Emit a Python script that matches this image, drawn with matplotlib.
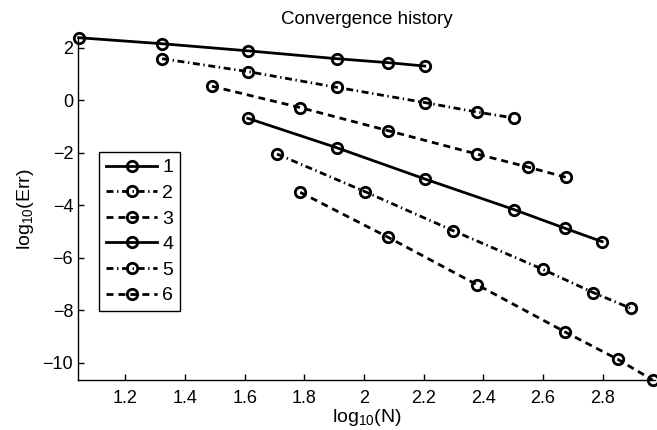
import matplotlib
matplotlib.use("Agg")
import matplotlib.pyplot as plt
from matplotlib.ticker import FuncFormatter

plt.rcParams['font.family'] = ['Liberation Sans', 'DejaVu Sans']
plt.rcParams['mathtext.fontset'] = 'custom'
plt.rcParams['mathtext.rm'] = 'Liberation Sans'
plt.rcParams['mathtext.default'] = 'regular'
plt.rcParams['lines.scale_dashes'] = False

labels = ['1', '2', '3', '4', '5', '6']
x1 = [1.043, 1.323, 1.610, 1.908, 2.080, 2.203]
y1 = [2.39, 2.16, 1.89, 1.59, 1.44, 1.31]
x2 = [1.323, 1.610, 1.908, 2.203, 2.377, 2.503]
y2 = [1.59, 1.10, 0.50, -0.08, -0.44, -0.67]
x3 = [1.490, 1.785, 2.080, 2.377, 2.550, 2.677]
y3 = [0.54, -0.27, -1.15, -2.04, -2.54, -2.93]
x4 = [1.610, 1.908, 2.203, 2.503, 2.673, 2.798]
y4 = [-0.68, -1.80, -2.99, -4.16, -4.87, -5.38]
x5 = [1.708, 2.002, 2.298, 2.598, 2.768, 2.894]
y5 = [-2.04, -3.47, -4.96, -6.43, -7.32, -7.92]
x6 = [1.786, 2.080, 2.380, 2.672, 2.850, 2.967]
y6 = [-3.50, -5.21, -7.03, -8.81, -9.86, -10.65]

xs = [x1, x2, x3, x4, x5, x6]
ys = [y1, y2, y3, y4, y5, y6]
solid = '-'
dashed = (0, (5.0, 3.6))
dashdot = (0, (5.0, 2.6, 1.0, 2.6))
styles = [solid, dashdot, dashed, solid, dashdot, dashed]

fig = plt.figure(figsize=(6.57, 4.30), dpi=100)
W, H = 657, 430
L, R, T, B = 78, 655, 37.7, 380
ax = fig.add_axes([L / W, 1 - B / H, (R - L) / W, (B - T) / H])

for x, y, ls, lab in zip(xs, ys, styles, labels):
    ax.plot(x, y, linestyle=ls, color='black', lw=2.0, marker='o',
            markersize=7.5, markerfacecolor='none', markeredgewidth=2.0,
            markeredgecolor='black', label=lab, clip_on=False)

ax.set_xlim(1.041, 2.975)
ax.set_ylim(-10.65, 2.39)
ax.set_xticks([1.2, 1.4, 1.6, 1.8, 2.0, 2.2, 2.4, 2.6, 2.8])
ax.set_yticks([-10, -8, -6, -4, -2, 0, 2])
ax.xaxis.set_major_formatter(FuncFormatter(lambda v, p: ('%g' % round(v, 2))))
ax.yaxis.set_major_formatter(FuncFormatter(lambda v, p: ('%g' % v).replace('-', '\u2212')))
ax.spines['top'].set_visible(False)
ax.spines['right'].set_visible(False)
for s in ['left', 'bottom']:
    ax.spines[s].set_linewidth(1.0)
ax.tick_params(axis='both', direction='in', length=4, width=1, labelsize=13)
ax.tick_params(axis='x', pad=7.5)
ax.tick_params(axis='y', pad=3.5)

ax.set_title('Convergence history', fontsize=13.5, pad=10)
ax.set_xlabel(r'log$_{10}$(N)', fontsize=14, labelpad=0)
ax.set_ylabel(r'log$_{10}$(Err)', fontsize=14, labelpad=5)

leg = ax.legend(loc='upper left', bbox_to_anchor=(0.0364, 0.666), fontsize=14,
                handlelength=2.65, handletextpad=0.25, labelspacing=0.41,
                borderpad=0.35, borderaxespad=0, fancybox=False, frameon=True,
                edgecolor='black', framealpha=1)
leg.get_frame().set_linewidth(1.0)

fig.savefig('out.png', dpi=100)
